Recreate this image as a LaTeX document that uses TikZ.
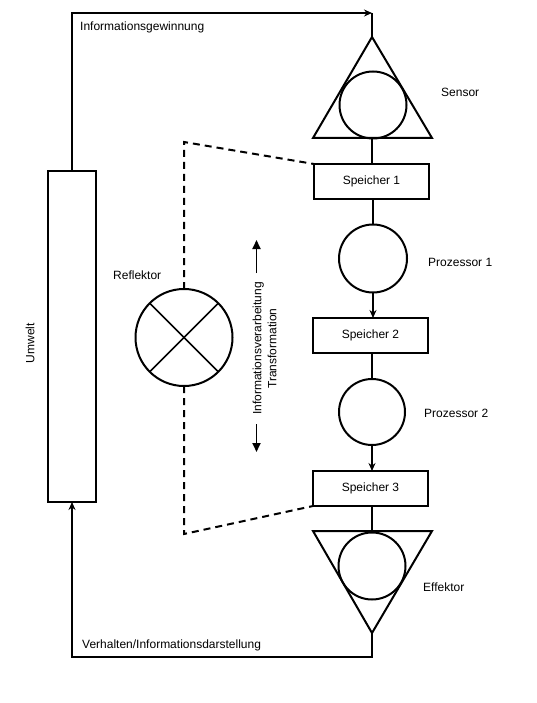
\documentclass[tikz,border=0pt]{standalone}
\usepackage{fontspec}
\setmainfont{Liberation Sans}
\usetikzlibrary{arrows.meta}
\begin{document}
\begin{tikzpicture}[x=1pt,y=-1pt,
  every node/.style={font=\fontsize{12}{14}\selectfont},
  ln/.style={line width=2pt},
  boxs/.style={draw,line width=2pt,minimum width=115pt,minimum height=35pt,inner sep=0pt,outer sep=0pt},
  circ/.style={draw,circle,line width=2pt,minimum size=68pt,inner sep=0pt,outer sep=0pt},
  arr/.style={ln,-{Stealth[length=8pt,width=7pt]}},
  bigarr/.style={line width=1.8pt,-{Triangle[length=9pt,width=8pt]}},
  dsh/.style={line width=2pt,dash pattern=on 7pt off 5pt},
  lbl/.style={inner sep=0pt}
]
\useasboundingbox (0,0) rectangle (537,703);

% Umwelt
\node[draw,line width=2pt,minimum width=48pt,minimum height=331pt,inner sep=0pt,outer sep=0pt] (umwelt) at (72,336.5) {};
\node[lbl,rotate=90] (umweltlbl) at (30,343) {Umwelt};

% Sensor
\coordinate (sensTop) at (372,37);
\coordinate (sensL) at (313,138);
\coordinate (sensR) at (432,138);
\coordinate (sensB) at (372,138);
\draw[ln,line join=miter] (sensTop) -- (sensL) -- (sensR) -- cycle;
\node[circ,minimum size=67pt] (sensC) at (373,105) {};
\node[lbl,anchor=west] (sensLbl) at (441,92) {Sensor};

% Speicher 1
\node[boxs] (s1) at (371.5,181.5) {Speicher 1};
% Prozessor 1
\node[circ] (p1) at (373,258.5) {};
\node[lbl,anchor=west] (p1lbl) at (428,262) {Prozessor 1};
% Speicher 2
\node[boxs] (s2) at (370.5,335.5) {Speicher 2};
% Prozessor 2
\node[circ,minimum size=66pt] (p2) at (372,412) {};
\node[lbl,anchor=west] (p2lbl) at (424,413) {Prozessor 2};
% Speicher 3
\node[boxs] (s3) at (370.5,488.5) {Speicher 3};

% Effektor
\coordinate (effL) at (313,531);
\coordinate (effR) at (432,531);
\coordinate (effT) at (372,531);
\coordinate (effApex) at (372,633);
\draw[ln,line join=miter] (effL) -- (effR) -- (effApex) -- cycle;
\node[circ,minimum size=67pt] (effC) at (372,566) {};
\node[lbl,anchor=west] (effLbl) at (423,587) {Effektor};

% chain connectors
\draw[ln] (sensB) -- (s1.north -| sensB);
\draw[ln] (s1.south -| p1) -- (p1.north);
\draw[arr] (p1.south) -- (s2.north -| p1);
\draw[ln] (s2.south -| p2) -- (p2.north);
\draw[arr] (p2.south) -- (s3.north -| p2);
\draw[ln] (s3.south -| effT) -- (effT);

% outer loop
\coordinate (cTop) at (372,13);
\coordinate (cBot) at (72,657);
\draw[arr] (umwelt.north) |- (cTop);
\draw[ln] (cTop) -- (sensTop);
\draw[arr] (effApex) |- (cBot) -- (umwelt.south);
\node[lbl,anchor=west] (infoGew) at (80,27) {Informationsgewinnung};
\node[lbl,anchor=west] (verh) at (82,645) {Verhalten/Informationsdarstellung};

% Reflektor
\node[circ,minimum size=97pt] (refl) at (184,337.5) {};
\draw[line width=1.6pt] (refl.45) -- (refl.225);
\draw[line width=1.6pt] (refl.135) -- (refl.315);
\node[lbl,anchor=west] (reflLbl) at (113,275) {Reflektor};

% dashed
\coordinate (dTop) at (184,142);
\coordinate (dBot) at (184,534);
\draw[dsh] (refl.north) -- (dTop) -- (s1.north west);
\draw[dsh] (refl.south) -- (dBot) -- (s3.south west);

% Transformation arrows
\coordinate (aUpS) at (256.5,273);
\coordinate (aUpE) at (256.5,240);
\coordinate (aDnS) at (256.5,424);
\coordinate (aDnE) at (256.5,452);
\draw[bigarr] (aUpS) -- (aUpE);
\draw[bigarr] (aDnS) -- (aDnE);
\node[lbl,rotate=90,align=center,font=\fontsize{12}{15}\selectfont] (trans) at (264.5,348.5) {Informationsverarbeitung\\Transformation};
\end{tikzpicture}
\end{document}
